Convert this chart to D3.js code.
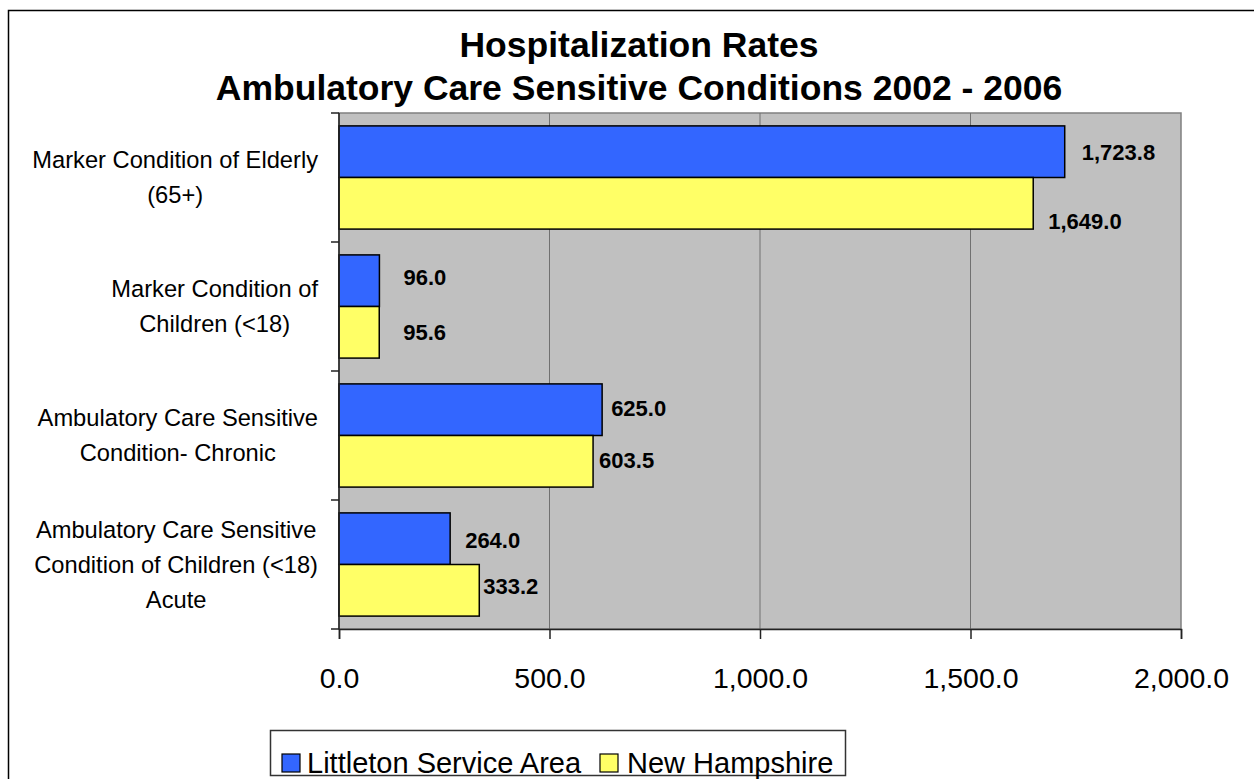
<!DOCTYPE html>
<html>
<head>
<meta charset="utf-8">
<script src="https://cdn.jsdelivr.net/npm/d3@7"></script>
<style>
  html, body { margin: 0; padding: 0; background: #fff; }
  svg { display: block; font-family: "Liberation Sans", Arial, sans-serif; }
</style>
</head>
<body>
<svg id="chart" width="1254" height="779"></svg>
<script>
// chart data
var categories = [
  "Marker Condition of Elderly\n(65+)",
  "Marker Condition of\nChildren (<18)",
  "Ambulatory Care Sensitive\nCondition- Chronic",
  "Ambulatory Care Sensitive\nCondition of Children (<18)\nAcute"
];
var seriesNames = ["Littleton Service Area", "New Hampshire"];
var littletonValues = [1723.8, 96.0, 625.0, 264.0];
var newHampshireValues = [1649.0, 95.6, 603.5, 333.2];
var xTicks = [0, 500, 1000, 1500, 2000];
var titleLines = ["Hospitalization Rates", "Ambulatory Care Sensitive Conditions 2002 - 2006"];

// where Excel dropped the value labels (offset from bar end / bar middle)
var labelNudge = [
  [[17, 1], [15, 18]],
  [[24, -3], [24, 0]],
  [[9, -1], [6, -1]],
  [[15, 2], [4, -4]]
];

var colors = ["#3366FF", "#FFFF66"];
var fmt = d3.format(",.1f");

var svg = d3.select("#chart");
var plot = { left: 339, right: 1181, top: 113, bottom: 629 };

// outer chart frame (runs off the picture on right and bottom)
svg.append("rect")
  .attr("x", 8.5).attr("y", 10.5)
  .attr("width", 1400).attr("height", 900)
  .attr("fill", "#fff")
  .attr("stroke", "#000")
  .attr("stroke-width", 1.5);

// title
svg.append("g").selectAll("text")
  .data(titleLines)
  .join("text")
  .attr("x", 639)
  .attr("y", (d, i) => 57 + i * 43)
  .attr("text-anchor", "middle")
  .attr("font-size", 35.5)
  .attr("font-weight", "bold")
  .attr("fill", "#000")
  .text(d => d);

var x = d3.scaleLinear().domain([0, 2000]).range([plot.left, plot.right]);
var y0 = d3.scaleBand().domain(d3.range(categories.length)).range([plot.top, plot.bottom]);
var y1 = d3.scaleBand().domain(d3.range(seriesNames.length))
  .range([0, y0.bandwidth()]).paddingOuter(0.25);

// plot area
svg.append("rect")
  .attr("x", plot.left).attr("y", plot.top)
  .attr("width", plot.right - plot.left).attr("height", plot.bottom - plot.top)
  .attr("fill", "#C0C0C0")
  .attr("stroke", "#808080")
  .attr("stroke-width", 1.5);

// gridlines
svg.append("g").selectAll("line")
  .data(xTicks.slice(1, -1))
  .join("line")
  .attr("x1", d => x(d)).attr("x2", d => x(d))
  .attr("y1", plot.top).attr("y2", plot.bottom)
  .attr("stroke", "#707070")
  .attr("stroke-width", 1);

// bars
var rows = categories.map((c, i) => ({ i: i, vals: [littletonValues[i], newHampshireValues[i]] }));
var groups = svg.append("g").selectAll("g")
  .data(rows)
  .join("g")
  .attr("transform", d => `translate(0,${y0(d.i)})`);

groups.selectAll("rect")
  .data(d => d.vals.map((v, s) => ({ v: v, s: s, i: d.i })))
  .join("rect")
  .attr("x", x(0))
  .attr("y", d => y1(d.s))
  .attr("width", d => x(d.v) - x(0))
  .attr("height", y1.bandwidth())
  .attr("fill", d => colors[d.s])
  .attr("stroke", "#000")
  .attr("stroke-width", 1.5);

groups.selectAll("text.val")
  .data(d => d.vals.map((v, s) => ({ v: v, s: s, i: d.i })))
  .join("text")
  .attr("class", "val")
  .attr("x", d => x(d.v) + labelNudge[d.i][d.s][0])
  .attr("y", d => y1(d.s) + y1.bandwidth() / 2 + labelNudge[d.i][d.s][1])
  .attr("dy", "0.35em")
  .attr("font-size", 22)
  .attr("font-weight", "bold")
  .attr("fill", "#000")
  .text(d => fmt(d.v));

// axes
var xAxis = d3.axisBottom(x).tickValues(xTicks).tickSize(10).tickFormat(fmt);
var gx = svg.append("g")
  .attr("transform", `translate(0,${plot.bottom})`)
  .call(xAxis);
gx.select(".domain").attr("stroke", "#222").attr("stroke-width", 1.5);
gx.selectAll(".tick line").attr("stroke", "#222").attr("stroke-width", 1.5);
gx.selectAll(".tick text")
  .attr("font-family", "'Liberation Sans', Arial, sans-serif")
  .attr("font-size", 28.5)
  .attr("fill", "#000")
  .attr("y", 59)
  .attr("dy", "0");

// y axis: ticks at category boundaries
var yEdges = d3.range(categories.length + 1).map(i => plot.top + i * y0.step());
var gy = svg.append("g");
gy.append("line")
  .attr("x1", plot.left).attr("x2", plot.left)
  .attr("y1", plot.top).attr("y2", plot.bottom)
  .attr("stroke", "#222").attr("stroke-width", 1.5);
gy.selectAll("line.tk")
  .data(yEdges)
  .join("line")
  .attr("class", "tk")
  .attr("x1", plot.left - 8).attr("x2", plot.left)
  .attr("y1", d => d).attr("y2", d => d)
  .attr("stroke", "#222").attr("stroke-width", 1.5);

// category labels: lines centred within a block that is right-aligned
var labelRight = 318;
var lineH = 35;
var catSize = 23.7;
var measure = svg.append("text").attr("font-size", catSize).attr("visibility", "hidden");
categories.forEach(function(c, i) {
  var lines = c.split("\n");
  var widths = lines.map(l => { measure.text(l); return measure.node().getComputedTextLength(); });
  var cx = labelRight - d3.max(widths) / 2;
  var cy = y0(i) + y0.bandwidth() / 2;
  gy.append("g").selectAll("text")
    .data(lines)
    .join("text")
    .attr("x", cx)
    .attr("y", (d, k) => cy + (k - (lines.length - 1) / 2) * lineH)
    .attr("dy", "0.35em")
    .attr("text-anchor", "middle")
    .attr("font-size", catSize)
    .attr("fill", "#000")
    .text(d => d);
});
measure.remove();

// legend
var legend = svg.append("g");
legend.append("rect")
  .attr("x", 270.5).attr("y", 730.5)
  .attr("width", 575).attr("height", 45)
  .attr("fill", "#fff")
  .attr("stroke", "#333")
  .attr("stroke-width", 1.5);
var legendX = [282, 600];
var items = legend.selectAll("g")
  .data(seriesNames)
  .join("g")
  .attr("transform", (d, i) => `translate(${legendX[i]},754)`);
items.append("rect")
  .attr("x", 0).attr("y", 0)
  .attr("width", 18).attr("height", 18)
  .attr("fill", (d, i) => colors[i])
  .attr("stroke", "#000")
  .attr("stroke-width", 1.2);
items.append("text")
  .attr("x", (d, i) => i === 0 ? 25 : 27)
  .attr("y", 9)
  .attr("dy", "0.35em")
  .attr("font-size", 29)
  .attr("fill", "#000")
  .text(d => d);
</script>
</body>
</html>
